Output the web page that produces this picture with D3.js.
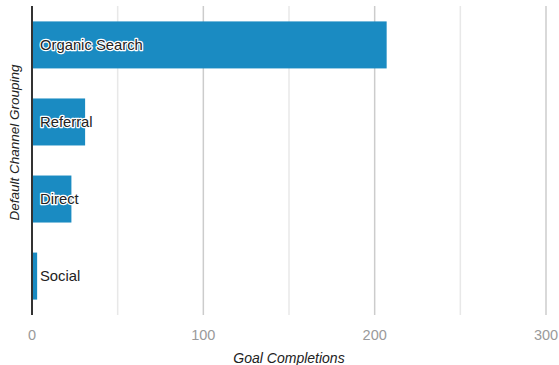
<!DOCTYPE html>
<html>
<head>
<meta charset="utf-8">
<script src="https://cdn.jsdelivr.net/npm/d3@7"></script>
<style>
  body { margin: 0; background: #fff; }
  svg { font-family: "Liberation Sans", Arial, sans-serif; }
</style>
</head>
<body>
<svg class="chart" width="559" height="365"></svg>
<script>
// chart data
var channels = ["Organic Search", "Referral", "Direct", "Social"];
var completions = [207, 31, 23, 3];
var tickValues = [0, 50, 100, 150, 200, 250, 300];
var tickLabels = ["0", "", "100", "", "200", "", "300"];

var margin = {top: 6, right: 13, bottom: 50, left: 32},
    width = 559 - margin.left - margin.right,
    height = 365 - margin.top - margin.bottom;

var svg = d3.select("svg.chart")
  .append("g")
    .attr("transform", "translate(" + margin.left + "," + margin.top + ")");

var x = d3.scaleLinear().domain([0, 300]).range([0, width]);
var y = d3.scaleBand().domain(channels).range([0, height]).paddingInner(0.39).paddingOuter(0.2);

// gridlines
svg.selectAll("line.grid")
  .data(tickValues.slice(1))
  .enter()
  .append("line")
    .attr("class", "grid")
    .attr("x1", function(d) { return x(d); })
    .attr("x2", function(d) { return x(d); })
    .attr("y1", 0)
    .attr("y2", height)
    .attr("stroke", function(d) { return d % 100 === 0 ? "#cccccc" : "#e8e8e8"; })
    .attr("stroke-width", 1.5);

// tick labels
svg.selectAll("text.tick")
  .data(tickValues)
  .enter()
  .append("text")
    .attr("class", "tick")
    .attr("x", function(d) { return x(d); })
    .attr("y", height + 25)
    .attr("text-anchor", "middle")
    .attr("fill", "#9a9a9a")
    .style("font-size", "14.5px")
    .text(function(d, i) { return tickLabels[i]; });

var data = channels.map(function(c, i) { return {term: c, count: completions[i]}; });

// bars
svg.selectAll("rect.bar")
  .data(data)
  .enter()
  .append("rect")
    .attr("class", "bar")
    .attr("x", x(0))
    .attr("y", function(d) { return y(d.term); })
    .attr("width", function(d) { return x(d.count); })
    .attr("height", y.bandwidth())
    .attr("fill", "#1a8bc2");

// bar labels with white halo
svg.selectAll("text.label")
  .data(data)
  .enter()
  .append("text")
    .attr("class", "label")
    .attr("x", 8)
    .attr("y", function(d) { return y(d.term) + y.bandwidth() / 2; })
    .attr("dy", "0.35em")
    .style("font-size", "14.8px")
    .attr("fill", "#222")
    .attr("stroke", "#fff")
    .attr("stroke-width", 2.5)
    .attr("paint-order", "stroke")
    .attr("stroke-linejoin", "round")
    .text(function(d) { return d.term; });

// y axis line
svg.append("line")
  .attr("x1", 0).attr("x2", 0)
  .attr("y1", 0).attr("y2", height)
  .attr("stroke", "#333")
  .attr("stroke-width", 2);

// axis titles
svg.append("text")
  .attr("x", width / 2)
  .attr("y", height + 48)
  .attr("text-anchor", "middle")
  .style("font-size", "14px")
  .style("font-style", "italic")
  .attr("fill", "#222")
  .text("Goal Completions");

svg.append("text")
  .attr("transform", "translate(-13," + (height / 2 - 18) + ")rotate(-90)")
  .attr("text-anchor", "middle")
  .style("font-size", "13.5px")
  .style("font-style", "italic")
  .attr("fill", "#222")
  .text("Default Channel Grouping");
</script>
</body>
</html>
